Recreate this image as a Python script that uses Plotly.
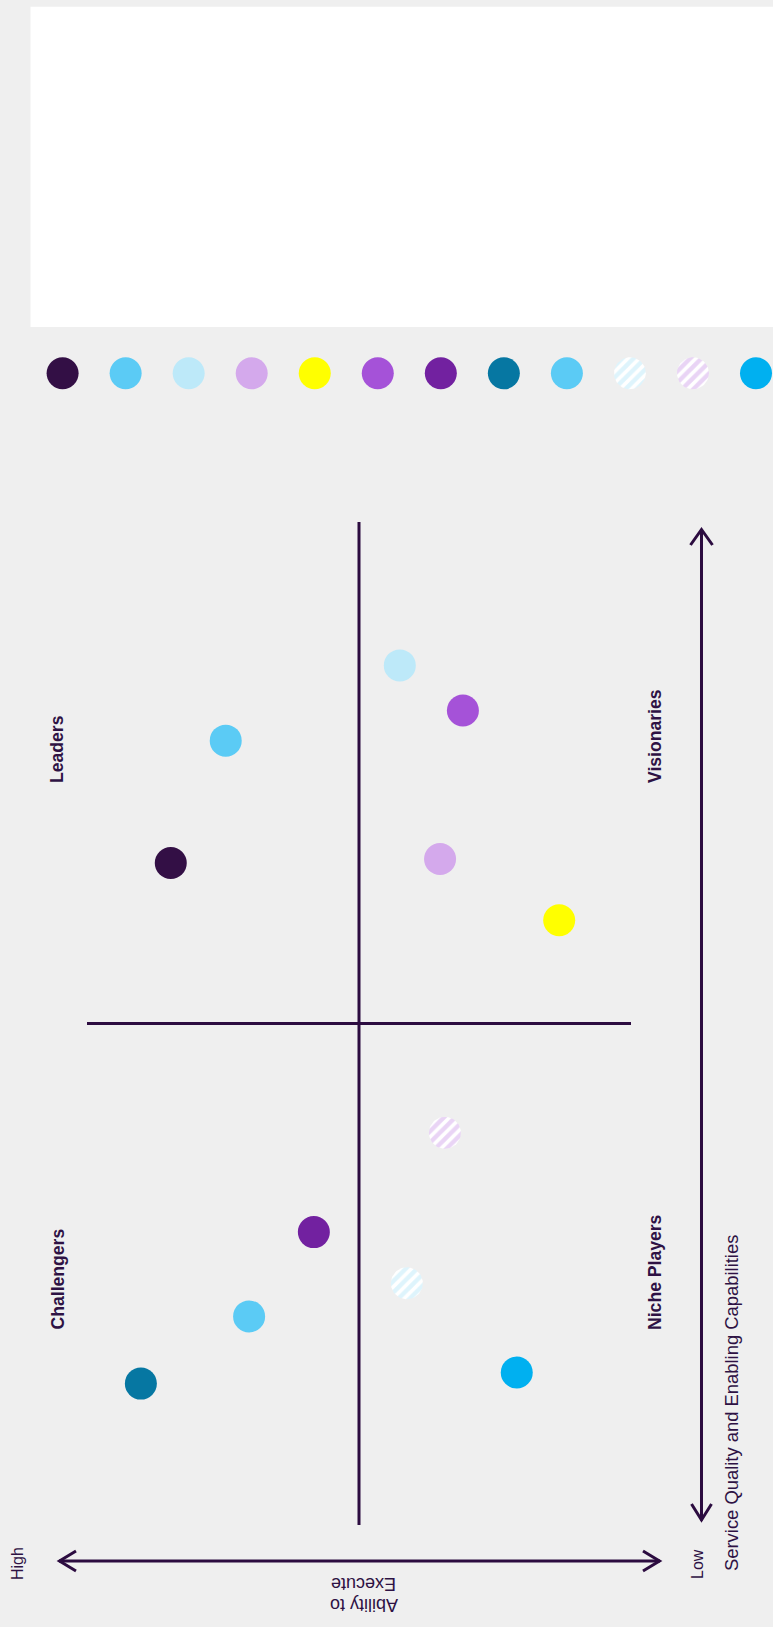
import numpy as np
import plotly.graph_objects as go

# ---------------- data ----------------
vendors = ["Vendor A", "Vendor B", "Vendor C", "Vendor D", "Vendor E", "Vendor F",
           "Vendor G", "Vendor H", "Vendor I", "Vendor J", "Vendor K", "Vendor L"]
colors = ["#330f45", "#5bcbf5", "#bde9f9", "#d4a9ec", "#ffff00", "#a552d8",
          "#7221a0", "#0677a2", "#5bcbf5", "#bde9f9", "#d4a9ec", "#00b0f0"]
hatched = [False, False, False, False, False, False,
           False, False, False, True, True, False]
# Ability to Execute (100 = High) and Service Quality & Enabling Capabilities (100 = High)
execute = [84.6, 74.5, 42.5, 35.1, 13.2, 30.9, 58.3, 90.1, 70.2, 41.2, 34.2, 21.0]
quality = [66.0, 78.2, 85.7, 66.4, 60.3, 81.2, 29.2, 14.1, 20.8, 24.1, 39.1, 15.2]

quadrant_labels = ["Leaders", "Visionaries", "Challengers", "Niche Players"]
midpoint = 50

# ---------------- layout constants ----------------
W, H = 773, 1627
QX_HIGH, QX_LOW = 87.0, 631.0      # pixel x of execute = 100 / 0
QY_HIGH, QY_LOW = 522.0, 1525.0    # pixel y of quality = 100 / 0
ppx = (QX_LOW - QX_HIGH) / 100.0
ppy = (QY_LOW - QY_HIGH) / 100.0


def px2x(px):
    return (QX_LOW - px) / ppx


def px2y(py):
    return (QY_LOW - py) / ppy


def pp(px, py):
    return px / W, 1 - py / H


INK = "#2c0c40"
TXT = "#2e1244"
FONT = "Liberation Sans, Arial, sans-serif"
DOT = 32

fig = go.Figure()

# ---------------- main quadrant dots ----------------
solid_idx = [i for i in range(len(vendors)) if not hatched[i]]
fig.add_trace(go.Scatter(
    x=[execute[i] for i in solid_idx], y=[quality[i] for i in solid_idx],
    mode="markers", text=[vendors[i] for i in solid_idx], hoverinfo="text",
    marker=dict(size=DOT, color=[colors[i] for i in solid_idx], line=dict(width=0)),
    xaxis="x", yaxis="y"))

t = np.linspace(0, 2 * np.pi, 73)
rx, ry = (DOT / 2) / ppx, (DOT / 2) / ppy
for i in range(len(vendors)):
    if hatched[i]:
        fig.add_trace(go.Scatter(
            x=execute[i] + rx * np.cos(t), y=quality[i] + ry * np.sin(t),
            mode="lines", fill="toself", line=dict(width=0, color="white"),
            fillcolor="white", name=vendors[i], hoverinfo="name",
            fillpattern=dict(shape="/", fgcolor=colors[i], bgcolor="white",
                             size=8, solidity=0.55),
            xaxis="x", yaxis="y"))

# ---------------- legend strip of dots ----------------
L0, L11 = 62.6, 756.0
lstep = (L11 - L0) / (len(vendors) - 1)
LY = 373.3
ly_half = 48.8  # px per unit on y2
idx = list(range(len(vendors)))
fig.add_trace(go.Scatter(
    x=[i for i in idx if not hatched[i]], y=[0] * len(solid_idx),
    mode="markers", text=[vendors[i] for i in solid_idx], hoverinfo="text",
    marker=dict(size=DOT, color=[colors[i] for i in solid_idx], line=dict(width=0)),
    xaxis="x2", yaxis="y2"))
lrx, lry = (DOT / 2) / lstep, (DOT / 2) / ly_half
for i in idx:
    if hatched[i]:
        fig.add_trace(go.Scatter(
            x=i + lrx * np.cos(t), y=lry * np.sin(t),
            mode="lines", fill="toself", line=dict(width=0, color="white"),
            fillcolor="white", name=vendors[i], hoverinfo="name",
            fillpattern=dict(shape="/", fgcolor=colors[i], bgcolor="white",
                             size=8, solidity=0.55),
            xaxis="x2", yaxis="y2"))

yc = (H - LY) / H
ydom = [yc - ly_half / H, yc + ly_half / H]

# ---------------- shapes ----------------
shapes = []
# white panel at the top
x0, y0 = pp(30.5, 6.7)
x1, y1 = pp(773, 327)
shapes.append(dict(type="rect", xref="paper", yref="paper", x0=x0, x1=x1, y0=y1, y1=y0,
                   fillcolor="white", line=dict(width=0), layer="below"))
# quadrant dividers
shapes.append(dict(type="line", xref="x", yref="y", x0=0, x1=100, y0=midpoint, y1=midpoint,
                   line=dict(color=INK, width=3)))
shapes.append(dict(type="line", xref="x", yref="y", x0=midpoint, x1=midpoint, y0=0, y1=100,
                   line=dict(color=INK, width=3)))


def ppath(points):
    s = ""
    for k, (a, b) in enumerate(points):
        X, Y = pp(a, b)
        s += ("M" if k == 0 else " L") + f" {X:.6f},{Y:.6f}"
    return s


# horizontal double arrow (Ability to Execute)
AY = 1561
shapes.append(dict(type="path", xref="paper", yref="paper",
                   path=ppath([(59, AY), (660, AY)]), line=dict(color=INK, width=3)))
shapes.append(dict(type="path", xref="paper", yref="paper",
                   path=ppath([(76, AY - 10), (59.5, AY), (76, AY + 10)]), line=dict(color=INK, width=3)))
shapes.append(dict(type="path", xref="paper", yref="paper",
                   path=ppath([(643, AY - 10), (659.5, AY), (643, AY + 10)]), line=dict(color=INK, width=3)))
# vertical double arrow (Service Quality)
AX = 701.5
shapes.append(dict(type="path", xref="paper", yref="paper",
                   path=ppath([(AX, 529), (AX, 1520.5)]), line=dict(color=INK, width=3)))
shapes.append(dict(type="path", xref="paper", yref="paper",
                   path=ppath([(AX - 11, 545), (AX, 529.5), (AX + 11, 545)]), line=dict(color=INK, width=3)))
shapes.append(dict(type="path", xref="paper", yref="paper",
                   path=ppath([(AX - 10, 1504), (AX, 1520), (AX + 10, 1504)]), line=dict(color=INK, width=3)))

# ---------------- annotations ----------------
ann = []


def add_text(text, px, py, size, angle, bold=False, yanchor="middle"):
    X, Y = pp(px, py)
    ann.append(dict(text=f"<b>{text}</b>" if bold else text, x=X, y=Y, xref="paper", yref="paper",
                    showarrow=False, textangle=angle, xanchor="center", yanchor=yanchor,
                    font=dict(family=FONT, size=size, color=TXT), borderpad=0))


add_text(quadrant_labels[0], 57, 784, 17.6, -90, bold=True, yanchor="bottom")
add_text(quadrant_labels[1], 655, 784, 17.6, -90, bold=True, yanchor="bottom")
add_text(quadrant_labels[2], 57, 1331, 17.6, -90, bold=True, yanchor="bottom")
add_text(quadrant_labels[3], 655, 1331, 17.6, -90, bold=True, yanchor="bottom")
add_text("High", 17.5, 1563.5, 16, -90)
add_text("Low", 697, 1564, 16, -90)
add_text("Service Quality and Enabling Capabilities", 731, 1572, 18.4, -90, yanchor="bottom")
add_text("Execute", 364, 1584, 18, 180)
add_text("Ability to", 364, 1605, 18, 180)

fig.update_layout(
    width=W, height=H, margin=dict(l=0, r=0, t=0, b=0),
    paper_bgcolor="#efefef", plot_bgcolor="rgba(0,0,0,0)", showlegend=False,
    xaxis=dict(domain=[0, 1], range=[px2x(0), px2x(W)], visible=False, fixedrange=True),
    yaxis=dict(domain=[0, 1], range=[px2y(H), px2y(0)], visible=False, fixedrange=True),
    xaxis2=dict(domain=[0, 1], anchor="y2", range=[-L0 / lstep, (W - L0) / lstep],
                visible=False, fixedrange=True),
    yaxis2=dict(domain=ydom, anchor="x2", range=[-1, 1], visible=False, fixedrange=True),
    shapes=shapes, annotations=ann,
)

fig.write_html("out.html", config={"displayModeBar": False},
               post_script="document.body.style.margin='0';document.body.style.overflow='hidden';")
